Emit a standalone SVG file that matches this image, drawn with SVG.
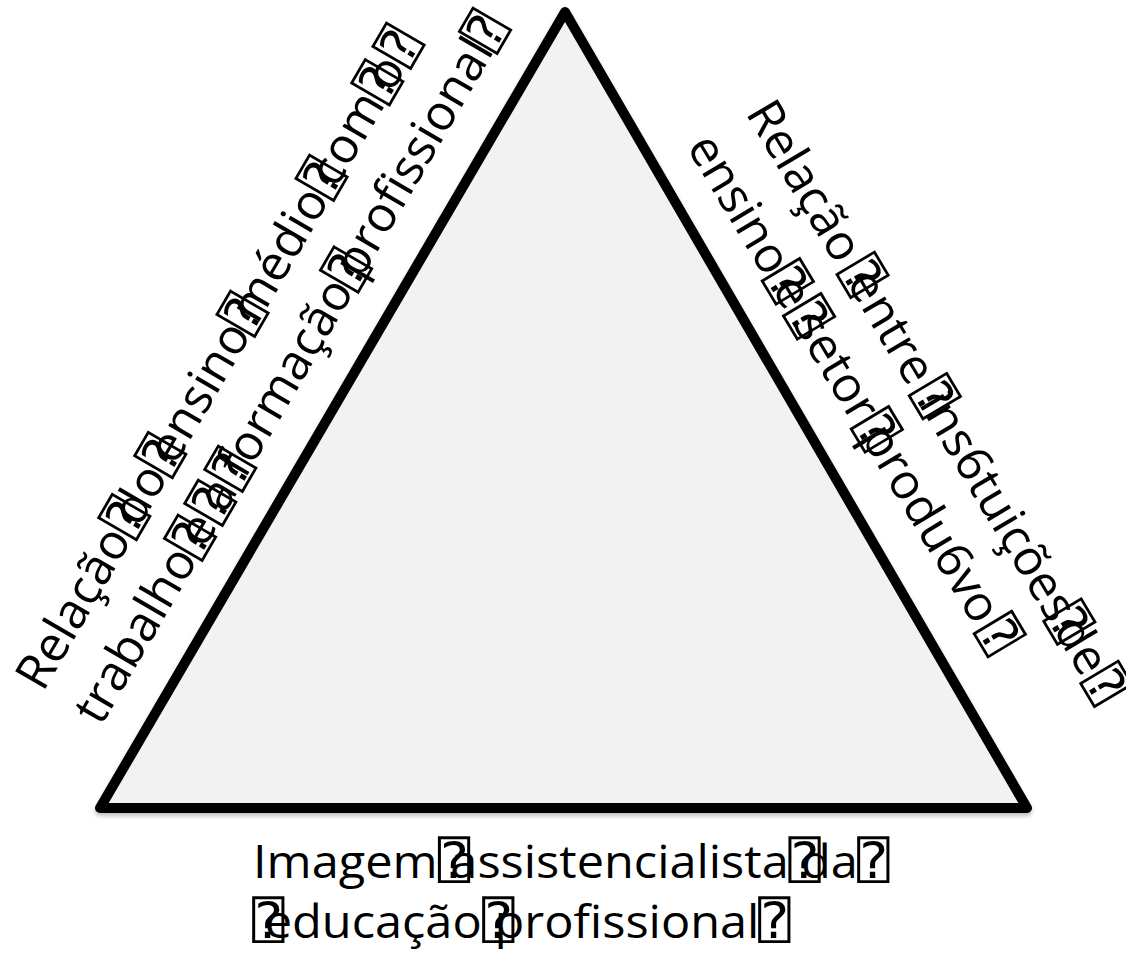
<svg xmlns="http://www.w3.org/2000/svg" width="1126" height="957" viewBox="0 0 1126 957">
<defs>
<style>
.t { font-family: "Open Sans", "Liberation Sans", sans-serif; fill: #000; }
.rot { font-size: 49px; }
.bot { font-size: 45px; }
.bx { font-family: "DejaVu Sans Mono", "DejaVu Sans", monospace; font-size: 50px; }
.tri { fill: #f2f2f2; stroke: #000; stroke-width: 10; stroke-linejoin: round; }
</style>
<filter id="sh" x="-5%" y="-5%" width="110%" height="110%">
<feDropShadow dx="0" dy="3" stdDeviation="2" flood-color="#000" flood-opacity="0.25"/>
</filter>
</defs>
<rect width="1126" height="957" fill="#fff"/>
<g id="triangle">
<polygon class="tri" points="100,808 565,12 1027,808" filter="url(#sh)"/>
</g>
<g id="label-left">
<text class="t rot" transform="translate(43,693) rotate(-59.8)"><tspan x="0">Relação</tspan><tspan class="bx" x="178">⍰</tspan><tspan x="190.7">do</tspan><tspan class="bx" x="249.6">⍰</tspan><tspan x="262.3">ensino</tspan><tspan class="bx" x="413.2">⍰</tspan><tspan x="425.9">médio</tspan><tspan class="bx" x="570.3">⍰</tspan><tspan x="583">com</tspan><tspan class="bx" x="680.9">⍰</tspan><tspan x="693.6">o</tspan><tspan class="bx" x="723.1">⍰</tspan></text>
<text class="t rot" transform="translate(101,727) rotate(-59.8)"><tspan x="0">trabalho</tspan><tspan class="bx" x="193.1">⍰</tspan><tspan x="205.8">e</tspan><tspan class="bx" x="233.7">⍰</tspan><tspan x="246.4">a</tspan><tspan class="bx" x="273.2">⍰</tspan><tspan x="285.9">formação</tspan><tspan class="bx" x="503.6">⍰</tspan><tspan x="516.3">profissional</tspan><tspan class="bx" x="779.8">⍰</tspan></text>
</g>
<g id="label-right">
<text class="t rot" transform="translate(745,113) rotate(59.2)"><tspan x="0">Relação</tspan><tspan class="bx" x="184.3">⍰</tspan><tspan x="197.4">entre</tspan><tspan class="bx" x="325.3">⍰</tspan><tspan x="338.4">ins6tuições</tspan><tspan class="bx" x="587.9">⍰</tspan><tspan x="601">de</tspan><tspan class="bx" x="660.3">⍰</tspan></text>
<text class="t rot" transform="translate(686,147) rotate(59)"><tspan x="0">ensino</tspan><tspan class="bx" x="152.5">⍰</tspan><tspan x="165.3">e</tspan><tspan class="bx" x="193.5">⍰</tspan><tspan x="206.3">setor</tspan><tspan class="bx" x="325.2">⍰</tspan><tspan x="338">produ6vo</tspan><tspan class="bx" x="564.1">⍰</tspan></text>
</g>
<g id="label-bottom">
<text class="t bot" transform="translate(253,878) scale(1.082,1)"><tspan x="0">Imagem</tspan><tspan class="bx" x="170.7">⍰</tspan><tspan x="182.4">assistencialista</tspan><tspan class="bx" x="494.6">⍰</tspan><tspan x="506.4">da</tspan><tspan class="bx" x="558.3">⍰</tspan></text>
<text class="t bot" transform="translate(252,938) scale(1.082,1)"><tspan class="bx" x="0">⍰</tspan><tspan x="11.7">educação</tspan><tspan class="bx" x="212.5">⍰</tspan><tspan x="224.2">profissional</tspan><tspan class="bx" x="467.7">⍰</tspan></text>
</g>
</svg>
